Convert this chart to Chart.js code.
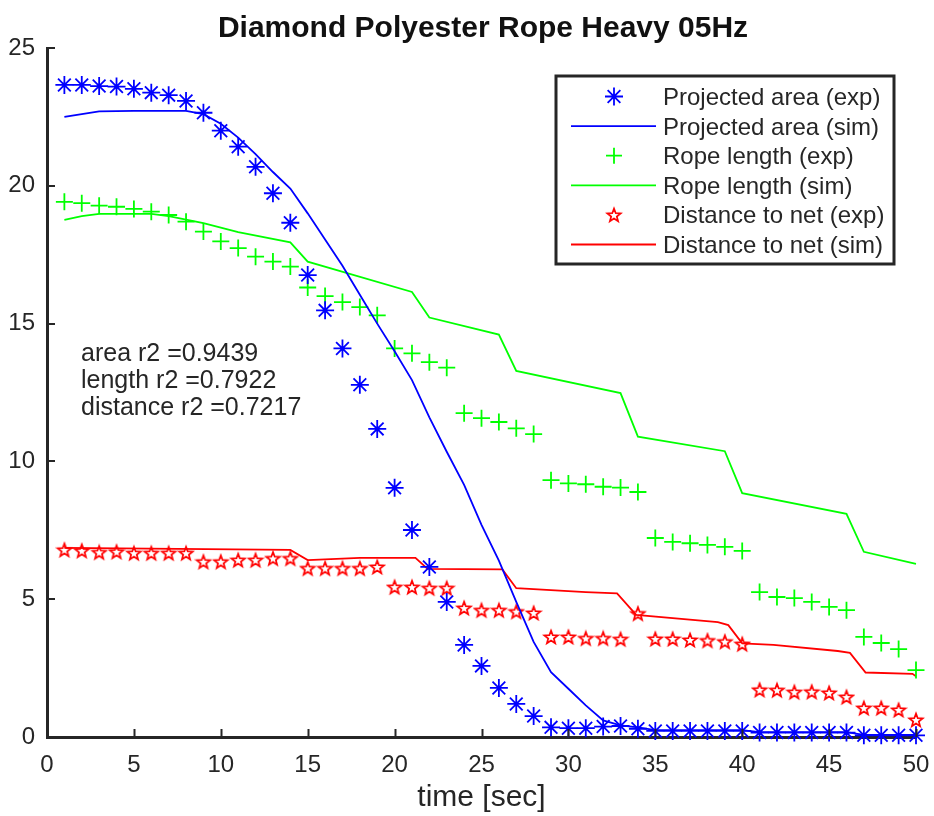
<!DOCTYPE html>
<html>
<head>
<meta charset="utf-8">
<script src="https://cdn.jsdelivr.net/npm/chart.js"></script>
<style>
html, body { margin: 0; padding: 0; background: #fff; }
</style>
</head>
<body>
<canvas id="grafico" width="934" height="816"></canvas>
<script>
// experimental samples, one per second
var tempoExp = [1, 2, 3, 4, 5, 6, 7, 8, 9, 10, 11, 12, 13, 14, 15, 16, 17, 18, 19, 20,
	21, 22, 23, 24, 25, 26, 27, 28, 29, 30, 31, 32, 33, 34, 35, 36, 37, 38, 39, 40,
	41, 42, 43, 44, 45, 46, 47, 48, 49, 50];
var areaExp = [23.66, 23.66, 23.62, 23.6, 23.52, 23.38, 23.29, 23.08, 22.65, 22.0,
	21.42, 20.69, 19.73, 18.66, 16.76, 15.48, 14.1, 12.78, 11.18, 9.04,
	7.51, 6.17, 4.9, 3.34, 2.58, 1.78, 1.2, 0.76, 0.35, 0.32,
	0.32, 0.38, 0.4, 0.3, 0.22, 0.22, 0.22, 0.22, 0.22, 0.22,
	0.16, 0.16, 0.16, 0.16, 0.16, 0.16, 0.06, 0.06, 0.06, 0.06];
var comprimentoExp = [19.42, 19.37, 19.28, 19.24, 19.16, 19.06, 18.94, 18.7, 18.34, 17.98,
	17.74, 17.43, 17.25, 17.07, 16.31, 16.0, 15.78, 15.6, 15.3, 14.1,
	13.92, 13.6, 13.4, 11.75, 11.57, 11.43, 11.2, 10.99, 9.32, 9.2,
	9.17, 9.08, 9.05, 8.89, 7.22, 7.08, 7.03, 6.97, 6.9, 6.75,
	5.26, 5.08, 5.04, 4.9, 4.72, 4.6, 3.63, 3.41, 3.19, 2.43];
var distanciaExp = [6.79, 6.76, 6.7, 6.72, 6.67, 6.67, 6.67, 6.67, 6.36, 6.36,
	6.42, 6.42, 6.48, 6.48, 6.12, 6.12, 6.12, 6.12, 6.17, 5.44,
	5.44, 5.4, 5.4, 4.68, 4.6, 4.6, 4.55, 4.5, 3.63, 3.63,
	3.58, 3.58, 3.55, 4.48, 3.56, 3.56, 3.52, 3.5, 3.46, 3.37,
	1.71, 1.7, 1.63, 1.64, 1.6, 1.45, 1.05, 1.05, 0.98, 0.62];

// simulation curves
var tempoAreaSim = [1, 2, 3, 5, 8, 9, 10, 11, 12, 13, 14, 15, 16, 17, 18, 19, 20, 21, 22, 23,
	24, 25, 26, 27, 28, 29, 30, 31, 32, 33, 34, 35, 40, 41, 46, 47, 50];
var areaSim = [22.5, 22.6, 22.7, 22.72, 22.72, 22.6, 22.25, 21.75, 21.15, 20.5, 19.9, 19.0, 18.05, 17.1, 16.05, 15.0, 14.0, 12.95, 11.6, 10.35,
	9.15, 7.7, 6.4, 4.9, 3.45, 2.35, 1.75, 1.15, 0.6, 0.42, 0.35, 0.25, 0.25, 0.18, 0.18, 0.08, 0.08];
var tempoComprimentoSim = [1, 2, 3, 6, 7, 9, 11, 14, 15, 21, 22, 26, 27, 33, 34, 39, 40, 46, 47, 50];
var comprimentoSim = [18.76, 18.9, 18.98, 18.98, 18.9, 18.65, 18.32, 17.95, 17.25, 16.15, 15.22, 14.6, 13.28, 12.48, 10.9, 10.37, 8.85, 8.1, 6.72, 6.28];
var tempoDistanciaSim = [1, 14, 15, 18, 21.2, 21.9, 26.2, 27, 31, 32.8, 33.9, 38.6, 39.2, 40, 41.8, 45.5, 46.2, 47.1, 49.8, 50];
var distanciaSim = [6.86, 6.79, 6.42, 6.5, 6.5, 6.1, 6.08, 5.4, 5.26, 5.21, 4.43, 4.17, 4.06, 3.4, 3.34, 3.12, 3.05, 2.34, 2.29, 2.2];

var etiquetas = ['Projected area (exp)', 'Projected area (sim)', 'Rope length (exp)',
	'Rope length (sim)', 'Distance to net (exp)', 'Distance to net (sim)'];
var textosR2 = ['area r2 =0.9439', 'length r2 =0.7922', 'distance r2 =0.7217'];
var titulo = 'Diamond Polyester Rope Heavy 05Hz';
var tituloX = 'time [sec]';

var AZUL = '#0000ff', VERDE = '#00ff00', VERMELHO = '#ff0000', TINTA = '#262626';
var FONTE = '"Liberation Sans", Arial, Helvetica, sans-serif';

function pares(xs, ys) {
	var out = [];
	for (var i = 0; i < xs.length; i++) out.push({x: xs[i], y: ys[i]});
	return out;
}

// pentagram marker (matlab 'p')
function criaEstrela(raio, cor) {
	var c = document.createElement('canvas');
	var tam = Math.ceil(raio * 2 + 4);
	c.width = tam; c.height = tam;
	var g = c.getContext('2d');
	g.strokeStyle = cor;
	g.lineWidth = 1.7;
	g.beginPath();
	for (var i = 0; i < 10; i++) {
		var r = i % 2 === 0 ? raio : raio * 0.42;
		var a = -Math.PI / 2 + i * Math.PI / 5;
		var px = tam / 2 + r * Math.cos(a), py = tam / 2 + r * Math.sin(a) + 0.6;
		if (i === 0) g.moveTo(px, py); else g.lineTo(px, py);
	}
	g.closePath();
	g.stroke();
	return c;
}
var estrela = criaEstrela(7, VERMELHO);

function serieExp(rotulo, ys, cor, estilo, raio) {
	return {
		label: rotulo, data: pares(tempoExp, ys), showLine: false,
		pointStyle: estilo, pointRadius: raio, pointHoverRadius: raio,
		borderColor: cor, backgroundColor: cor, pointBorderWidth: 1.8, clip: false
	};
}
function serieSim(rotulo, xs, ys, cor) {
	return {
		label: rotulo, data: pares(xs, ys), showLine: true, tension: 0,
		pointRadius: 0, borderColor: cor, borderWidth: 1.8, fill: false, clip: false
	};
}

var decoracao = {
	id: 'decoracao',
	afterDraw: function(chart) {
		var ctx = chart.ctx, area = chart.chartArea;
		var sx = chart.scales.x, sy = chart.scales.y;
		ctx.save();

		// inward ticks
		ctx.strokeStyle = TINTA;
		ctx.lineWidth = 2;
		ctx.beginPath();
		sx.ticks.forEach(function(t) {
			var px = Math.round(sx.getPixelForValue(t.value)) + 0.5;
			ctx.moveTo(px, area.bottom); ctx.lineTo(px, area.bottom - 8);
		});
		sy.ticks.forEach(function(t) {
			var py = Math.round(sy.getPixelForValue(t.value));
			ctx.moveTo(area.left, py); ctx.lineTo(area.left + 8, py);
		});
		ctx.stroke();

		// title
		ctx.fillStyle = '#111';
		ctx.font = 'bold 30px ' + FONTE;
		ctx.textAlign = 'center';
		ctx.textBaseline = 'alphabetic';
		ctx.fillText(titulo, 483, 37);

		// r2 text
		ctx.fillStyle = TINTA;
		ctx.font = '25px ' + FONTE;
		ctx.textAlign = 'left';
		for (var i = 0; i < textosR2.length; i++) {
			ctx.fillText(textosR2[i], 81, 361 + i * 26.8);
		}

		// legend
		ctx.font = '24px ' + FONTE;
		var bx = 556, by = 76, bw = 338, bh = 188;
		ctx.fillStyle = '#fff';
		ctx.fillRect(bx, by, bw, bh);
		ctx.strokeStyle = TINTA;
		ctx.lineWidth = 3;
		ctx.strokeRect(bx, by, bw, bh);
		var cores = [AZUL, AZUL, VERDE, VERDE, VERMELHO, VERMELHO];
		for (var k = 0; k < etiquetas.length; k++) {
			var base = 105 + k * 29.6;
			var cy = base - 8.5;
			ctx.strokeStyle = cores[k];
			if (k % 2 === 1) {
				ctx.lineWidth = 1.8;
				ctx.beginPath(); ctx.moveTo(571, cy); ctx.lineTo(656, cy); ctx.stroke();
			} else if (k === 0) {
				ctx.lineWidth = 1.8;
				ctx.beginPath();
				for (var a = 0; a < 4; a++) {
					var ang = a * Math.PI / 4;
					ctx.moveTo(614 - 9 * Math.cos(ang), cy - 9 * Math.sin(ang));
					ctx.lineTo(614 + 9 * Math.cos(ang), cy + 9 * Math.sin(ang));
				}
				ctx.stroke();
			} else if (k === 2) {
				ctx.lineWidth = 1.8;
				ctx.beginPath();
				ctx.moveTo(606, cy); ctx.lineTo(622, cy);
				ctx.moveTo(614, cy - 8); ctx.lineTo(614, cy + 8);
				ctx.stroke();
			} else {
				ctx.drawImage(estrela, 614 - estrela.width / 2, cy - estrela.height / 2);
			}
			ctx.fillStyle = TINTA;
			ctx.fillText(etiquetas[k], 663, base);
		}
		ctx.restore();
	}
};

var contexto = document.getElementById('grafico');
var grafico = new Chart(contexto, {
	type: 'scatter',
	data: {
		datasets: [
			serieExp(etiquetas[0], areaExp, AZUL, 'star', 9),
			serieSim(etiquetas[1], tempoAreaSim, areaSim, AZUL),
			serieExp(etiquetas[2], comprimentoExp, VERDE, 'cross', 8.5),
			serieSim(etiquetas[3], tempoComprimentoSim, comprimentoSim, VERDE),
			serieExp(etiquetas[4], distanciaExp, VERMELHO, estrela, 7),
			serieSim(etiquetas[5], tempoDistanciaSim, distanciaSim, VERMELHO)
		]
	},
	options: {
		responsive: false,
		animation: false,
		layout: {padding: {top: 48, right: 18, bottom: 0, left: 0}},
		plugins: {legend: {display: false}, tooltip: {enabled: false}},
		scales: {
			x: {
				type: 'linear', min: 0, max: 50,
				ticks: {stepSize: 5, color: TINTA, font: {family: FONTE, size: 24}, padding: 14, maxRotation: 0},
				grid: {drawOnChartArea: false, drawTicks: false},
				border: {color: TINTA, width: 3},
				title: {display: true, text: tituloX, color: TINTA, font: {family: FONTE, size: 30}, padding: {top: 0, bottom: 0}},
				afterFit: function(s) { s.height = 79; s.paddingLeft = 0; s.paddingRight = 0; }
			},
			y: {
				min: 0, max: 25,
				ticks: {stepSize: 5, color: TINTA, font: {family: FONTE, size: 24}, padding: 12},
				grid: {drawOnChartArea: false, drawTicks: false},
				border: {color: TINTA, width: 3},
				afterFit: function(s) { s.width = 47; s.paddingTop = 0; s.paddingBottom = 0; }
			}
		}
	},
	plugins: [decoracao]
});
</script>
</body>
</html>
